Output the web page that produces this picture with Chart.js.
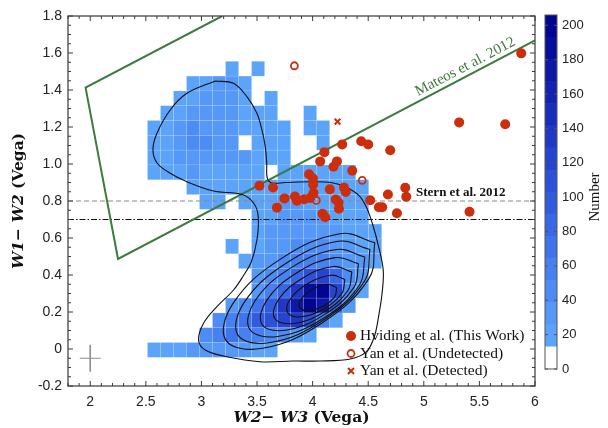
<!DOCTYPE html>
<html>
<head>
<meta charset="utf-8">
<script src="https://cdn.jsdelivr.net/npm/chart.js@4.4.0/dist/chart.umd.min.js"></script>
<style>
  html, body { margin: 0; padding: 0; background: #fff; }
  #wrap { position: relative; width: 608px; height: 428px; }
  canvas { position: absolute; top: 0; }
  #main { left: 0; }
  #cbar { left: 540px; }
</style>
</head>
<body>
<div id="wrap">
  <canvas id="main" width="608" height="428"></canvas>
  <canvas id="cbar" width="68" height="428"></canvas>
</div>
<script>
// tick labels
const xTicks = [2, 2.5, 3, 3.5, 4, 4.5, 5, 5.5, 6];
const yTicks = [-0.2, 0, 0.2, 0.4, 0.6, 0.8, 1, 1.2, 1.4, 1.6, 1.8];
const cbTicks = [0, 20, 40, 60, 80, 100, 120, 140, 160, 180, 200];

// 2D histogram bins (W2-W3 left edges, W1-W2 edges from top to bottom)
const xBinEdges = [2.515, 2.632, 2.749, 2.866, 2.983, 3.100, 3.217, 3.334, 3.451, 3.568,
                   3.685, 3.802, 3.919, 4.036, 4.153, 4.270, 4.387, 4.504, 4.621];
const yBinEdges = [1.555, 1.475, 1.395, 1.315, 1.235, 1.155, 1.075, 0.995, 0.915, 0.835, 0.755,
                   0.675, 0.595, 0.515, 0.435, 0.355, 0.275, 0.195, 0.115, 0.035, -0.045];
// counts per cell, rows top -> bottom
const counts = [
  [0,0,0,0,0,0,18,0,16,0,0,0,0,0,0,0,0,0],
  [0,0,0,20,24,34,26,22,0,0,0,0,0,0,0,0,0,0],
  [0,0,18,24,28,30,26,22,0,18,0,0,0,0,0,0,0,0],
  [0,18,22,30,34,36,28,24,22,20,0,0,16,0,0,0,0,0],
  [18,24,38,42,30,30,34,24,22,20,18,0,17,16,0,0,0,0],
  [20,24,30,40,42,30,26,0,22,20,18,0,0,16,0,0,0,0],
  [18,22,26,30,32,26,30,26,22,18,18,0,0,0,0,0,0,0],
  [16,18,22,26,24,24,22,20,18,0,18,18,20,18,18,16,0,0],
  [0,0,0,16,18,20,18,18,20,22,24,24,22,22,20,18,16,0],
  [0,0,0,0,16,18,0,16,20,22,26,26,24,24,22,20,18,0],
  [0,0,0,0,0,0,0,0,18,22,26,28,28,26,24,20,16,0],
  [0,0,0,0,0,0,0,0,20,26,30,32,34,30,28,24,20,16],
  [0,0,0,0,0,0,18,0,22,28,36,40,42,40,34,28,22,16],
  [0,0,0,0,0,0,0,18,26,34,44,56,64,62,50,36,26,18],
  [0,0,0,0,0,0,0,0,30,42,58,80,110,120,90,50,28,0],
  [0,0,0,0,0,0,0,0,36,56,90,140,190,205,120,50,24,0],
  [0,0,0,0,0,0,30,44,66,100,130,180,200,170,80,30,0,0],
  [0,0,0,0,0,40,60,76,92,110,120,130,110,60,24,0,0,0],
  [0,0,0,0,40,60,66,60,56,50,40,30,20,0,0,0,0,0],
  [18,20,22,28,32,34,30,26,22,18,0,0,0,0,0,0,0,0]
];

// colour bar levels
const cbEdges = [0, 12.875, 25.75, 38.625, 51.5, 64.375, 77.25, 90.125, 103, 115.875,
                 128.75, 141.625, 154.5, 167.375, 180.25, 193.125, 206];

// Hviding et al. (This Work)
const hvX = [5.876, 5.318, 5.732, 4.266, 4.437, 4.500, 4.698, 4.106, 4.068, 4.219, 4.188, 4.356, 3.968, 4.003,
             4.005, 3.522, 3.644, 4.008, 4.155, 4.282, 4.298, 3.841, 3.747, 3.859, 3.924, 3.978, 4.208, 4.233,
             3.679, 4.237, 4.518, 4.677, 4.833, 4.842, 4.596, 4.626, 4.758, 5.411, 4.089, 4.113];
const hvY = [1.598, 1.225, 1.215, 1.106, 1.123, 1.105, 1.074, 1.064, 1.014, 1.014, 0.985, 0.964, 0.945, 0.921,
             0.888, 0.883, 0.873, 0.843, 0.863, 0.873, 0.849, 0.824, 0.814, 0.802, 0.809, 0.816, 0.808, 0.792,
             0.764, 0.758, 0.804, 0.835, 0.872, 0.823, 0.766, 0.766, 0.734, 0.742, 0.731, 0.712];
// Yan et al.
const yanUndX = [3.836, 4.446, 4.034];
const yanUndY = [1.531, 0.912, 0.803];
const yanDetX = [4.224];
const yanDetY = [1.229];

// Mateos et al. 2012 wedge
const wedgeX = [3.187, 1.958, 2.250, 6.0];
const wedgeY = [1.8, 1.413, 0.487, 1.668];
// Stern et al. 2012 cut and the 0.7 line
const sternY = 0.8;
const cutY = 0.7;
const lineSpan = [1.8, 6];

// typical error
const errX = 2.0, errY = -0.05, errDx = 0.094, errDy = 0.072;

// density contours
const contourOuter = [
  [3.124,1.449],[3.289,1.436],[3.409,1.364],[3.499,1.274],[3.544,1.184],[3.574,1.094],[3.587,1.004],
  [3.592,0.924],[3.637,0.897],[3.754,0.900],[3.994,0.904],[4.174,0.899],[4.293,0.877],[4.413,0.832],
  [4.482,0.769],[4.536,0.681],[4.590,0.562],[4.635,0.427],[4.626,0.308],[4.593,0.175],[4.554,0.065],
  [4.482,-0.016],[4.338,-0.054],[4.068,-0.065],[3.826,-0.065],[3.529,-0.069],[3.229,-0.042],[3.034,-0.005],
  [2.974,0.049],[3.019,0.139],[3.139,0.229],[3.289,0.319],[3.376,0.395],[3.448,0.470],[3.499,0.589],
  [3.511,0.714],[3.475,0.784],[3.367,0.835],[3.109,0.854],[2.870,0.904],[2.719,0.950],[2.603,1.004],
  [2.564,1.076],[2.600,1.166],[2.719,1.292],[2.870,1.382],[3.124,1.449]
];
const contourL1 = [[4.217,0.331],[4.138,0.350],[4.008,0.326],[3.903,0.275],[3.884,0.225],[3.962,0.207],[4.093,0.231],[4.198,0.282]];
const contourL2 = [[4.290,0.376],[4.166,0.399],[3.965,0.357],[3.803,0.273],[3.775,0.197],[3.898,0.174],[4.100,0.216],[4.262,0.300]];
const contourL3 = [[4.353,0.417],[4.185,0.446],[3.913,0.384],[3.695,0.269],[3.658,0.166],[3.826,0.138],[4.098,0.199],[4.316,0.315]];
const contourL4 = [[4.413,0.461],[4.201,0.494],[3.859,0.412],[3.587,0.263],[3.544,0.134],[3.755,0.101],[4.098,0.183],[4.370,0.332]];
const contourL5 = [[4.470,0.497],[4.217,0.538],[3.808,0.440],[3.484,0.262],[3.433,0.108],[3.686,0.068],[4.094,0.165],[4.419,0.343]];
const contourL6 = [[4.516,0.538],[4.228,0.582],[3.758,0.462],[3.385,0.252],[3.328,0.075],[3.621,0.035],[4.091,0.154],[4.464,0.364]];
const contourL7 = [[4.560,0.575],[4.246,0.623],[3.711,0.486],[3.286,0.248],[3.219,0.048],[3.550,0.004],[4.084,0.141],[4.505,0.379]];

// 색상
const RED = '#cc2e0c';
const GREEN = '#3d7a3d';
const PALETTE = ['#ffffff',
  'rgb(92,164,250)', 'rgb(85,152,248)', 'rgb(78,140,245)', 'rgb(71,128,241)', 'rgb(64,116,236)',
  'rgb(57,104,230)', 'rgb(50,92,223)', 'rgb(44,80,215)', 'rgb(38,68,206)', 'rgb(32,56,196)',
  'rgb(26,45,186)', 'rgb(20,34,176)', 'rgb(14,24,166)', 'rgb(8,14,156)', 'rgb(2,5,146)'];

Chart.defaults.font.family = '"Liberation Sans", Arial, sans-serif';

function colorFor(v) {
  for (let k = 0; k < cbEdges.length - 1; k++) {
    if (v < cbEdges[k + 1]) return PALETTE[k];
  }
  return PALETTE[PALETTE.length - 1];
}

const zip = (xs, ys) => xs.map((x, i) => ({ x: x, y: ys[i] }));
const pairs = arr => arr.map(p => ({ x: p[0], y: p[1] }));
const closed = arr => pairs(arr.concat([arr[0]]));

function lineSet(data, color, width, extra) {
  return Object.assign({
    data: data,
    showLine: true,
    borderColor: color,
    borderWidth: width,
    pointRadius: 0,
    pointHitRadius: 0,
    fill: false,
    tension: 0
  }, extra || {});
}

// 2D 히스토그램
const heatmapPlugin = {
  id: 'heatmap',
  beforeDatasetsDraw(chart) {
    const { ctx, chartArea: a, scales: { x, y } } = chart;
    ctx.save();
    ctx.beginPath();
    ctx.rect(a.left, a.top, a.width, a.height);
    ctx.clip();
    counts.forEach((row, r) => {
      row.forEach((v, c) => {
        if (!v) return;
        const x0 = x.getPixelForValue(xBinEdges[c]);
        const x1 = x.getPixelForValue(xBinEdges[c + 1]);
        const y0 = y.getPixelForValue(yBinEdges[r]);
        const y1 = y.getPixelForValue(yBinEdges[r + 1]);
        ctx.fillStyle = colorFor(v);
        ctx.fillRect(x0, y0, x1 - x0, y1 - y0);
        ctx.strokeStyle = 'rgba(255,255,255,0.16)';
        ctx.lineWidth = 0.6;
        ctx.strokeRect(x0, y0, x1 - x0, y1 - y0);
      });
    });
    ctx.restore();
  }
};

// 테두리와 안쪽 눈금
const framePlugin = {
  id: 'frame',
  afterDatasetsDraw(chart) {
    const { ctx, chartArea: a, scales: { x, y } } = chart;
    ctx.save();
    ctx.strokeStyle = '#3a3a3a';
    ctx.lineWidth = 1.2;
    ctx.strokeRect(a.left, a.top, a.width, a.height);
    ctx.lineWidth = 1;
    ctx.beginPath();
    for (let i = 0; i <= 42; i++) {
      const v = 1.8 + i * 0.1;
      const major = xTicks.some(t => Math.abs(t - v) < 1e-6);
      const len = major ? 5 : 3;
      const px = x.getPixelForValue(v);
      ctx.moveTo(px, a.bottom); ctx.lineTo(px, a.bottom - len);
      ctx.moveTo(px, a.top); ctx.lineTo(px, a.top + len);
    }
    for (let i = 0; i <= 40; i++) {
      const v = -0.2 + i * 0.05;
      const major = yTicks.some(t => Math.abs(t - v) < 1e-6);
      const len = major ? 5 : 3;
      const py = y.getPixelForValue(v);
      ctx.moveTo(a.left, py); ctx.lineTo(a.left + len, py);
      ctx.moveTo(a.right, py); ctx.lineTo(a.right - len, py);
    }
    ctx.stroke();
    ctx.restore();
  }
};

function drawMixed(ctx, parts, cx, cy) {
  let total = 0;
  parts.forEach(p => { ctx.font = p.font; p.w = ctx.measureText(p.text).width; total += p.w; });
  let px = cx - total / 2;
  parts.forEach(p => { ctx.font = p.font; ctx.fillText(p.text, px, cy); px += p.w; });
}

// 축 제목, 주석, 범례
const textPlugin = {
  id: 'texts',
  afterDraw(chart) {
    const { ctx, chartArea: a, scales: { x, y } } = chart;
    const itf = 'italic bold 15.5px "DejaVu Serif"';
    const bf = 'bold 15.5px "DejaVu Serif"';
    ctx.save();
    ctx.fillStyle = '#111';
    ctx.textAlign = 'left';
    ctx.textBaseline = 'middle';
    drawMixed(ctx, [{ text: 'W2\u2212 W3', font: itf }, { text: ' (Vega)', font: bf }], (a.left + a.right) / 2, 418);
    ctx.save();
    ctx.translate(19, (a.top + a.bottom) / 2);
    ctx.rotate(-Math.PI / 2);
    drawMixed(ctx, [{ text: 'W1\u2212 W2', font: itf }, { text: ' (Vega)', font: bf }], 0, 0);
    ctx.restore();

    // Stern et al. 2012
    ctx.font = 'bold 13px "Liberation Serif"';
    ctx.fillStyle = '#111';
    ctx.fillText('Stern et al. 2012', x.getPixelForValue(4.93), y.getPixelForValue(0.845));

    // Mateos et al. 2012, along the lower wedge edge
    const x1 = x.getPixelForValue(wedgeX[2]), y1 = y.getPixelForValue(wedgeY[2]);
    const x2 = x.getPixelForValue(wedgeX[3]), y2 = y.getPixelForValue(wedgeY[3]);
    const ang = Math.atan2(y2 - y1, x2 - x1);
    const t = (5.41 - wedgeX[2]) / (wedgeX[3] - wedgeX[2]);
    ctx.save();
    ctx.translate(x1 + t * (x2 - x1), y1 + t * (y2 - y1));
    ctx.rotate(ang);
    ctx.font = '15px "Liberation Serif"';
    ctx.fillStyle = GREEN;
    ctx.textAlign = 'center';
    ctx.fillText('Mateos et al. 2012', 0, -9);
    ctx.restore();

    // legend
    const mx = a.right - 184;
    const tx = a.right - 175;
    const rows = [a.bottom - 50, a.bottom - 32.5, a.bottom - 15];
    ctx.font = '15.5px "Liberation Serif"';
    ctx.fillStyle = '#111';
    ctx.fillText('Hviding et al. (This Work)', tx, rows[0]);
    ctx.fillText('Yan et al. (Undetected)', tx, rows[1]);
    ctx.fillText('Yan et al. (Detected)', tx, rows[2]);
    ctx.fillStyle = RED;
    ctx.beginPath(); ctx.arc(mx, rows[0], 5, 0, Math.PI * 2); ctx.fill();
    ctx.strokeStyle = RED;
    ctx.lineWidth = 1.8;
    ctx.beginPath(); ctx.arc(mx, rows[1], 3.5, 0, Math.PI * 2); ctx.stroke();
    ctx.lineWidth = 2;
    ctx.beginPath();
    ctx.moveTo(mx - 3, rows[2] - 3); ctx.lineTo(mx + 3, rows[2] + 3);
    ctx.moveTo(mx + 3, rows[2] - 3); ctx.lineTo(mx - 3, rows[2] + 3);
    ctx.stroke();
    ctx.restore();
  }
};

new Chart(document.getElementById('main'), {
  type: 'scatter',
  data: {
    datasets: [
      { label: 'Hviding et al. (This Work)', data: zip(hvX, hvY), pointRadius: 5, backgroundColor: RED, borderColor: RED, borderWidth: 0 },
      { label: 'Yan et al. (Undetected)', data: zip(yanUndX, yanUndY), pointRadius: 3.5, backgroundColor: 'rgba(0,0,0,0)', borderColor: RED, borderWidth: 1.8 },
      { label: 'Yan et al. (Detected)', data: zip(yanDetX, yanDetY), pointStyle: 'crossRot', pointRadius: 4, borderColor: RED, borderWidth: 2 },
      lineSet(pairs(contourOuter), '#111', 1.1, { tension: 0.35 }),
      lineSet(closed(contourL1), '#111', 1.1, { tension: 0.4 }),
      lineSet(closed(contourL2), '#111', 1.1, { tension: 0.4 }),
      lineSet(closed(contourL3), '#111', 1.1, { tension: 0.4 }),
      lineSet(closed(contourL4), '#111', 1.1, { tension: 0.4 }),
      lineSet(closed(contourL5), '#111', 1.1, { tension: 0.4 }),
      lineSet(closed(contourL6), '#111', 1.1, { tension: 0.4 }),
      lineSet(closed(contourL7), '#111', 1.1, { tension: 0.4 }),
      lineSet(zip(wedgeX, wedgeY), GREEN, 2),
      lineSet(zip(lineSpan, [sternY, sternY]), '#8a8a8a', 1, { borderDash: [5, 3] }),
      lineSet(zip(lineSpan, [cutY, cutY]), '#111', 1.2, { borderDash: [6, 2, 1.5, 2] }),
      lineSet(zip([errX - errDx, errX + errDx], [errY, errY]), '#8c8c8c', 1),
      lineSet(zip([errX, errX], [errY + errDy, errY - errDy]), '#8c8c8c', 1)
    ]
  },
  options: {
    responsive: false,
    animation: false,
    layout: { padding: { left: 0, top: 16, right: 73, bottom: 0 } },
    plugins: { legend: { display: false }, tooltip: { enabled: false } },
    scales: {
      x: {
        type: 'linear', min: 1.8, max: 6,
        grid: { display: false, drawTicks: false },
        border: { display: false },
        afterBuildTicks: s => { s.ticks = xTicks.map(v => ({ value: v })); },
        afterFit: s => { s.height = 42; },
        ticks: { font: { size: 14 }, color: '#222', padding: 8, maxRotation: 0, autoSkip: false, callback: v => String(v) }
      },
      y: {
        type: 'linear', min: -0.2, max: 1.8,
        grid: { display: false, drawTicks: false },
        border: { display: false },
        afterBuildTicks: s => { s.ticks = yTicks.map(v => ({ value: v })); },
        afterFit: s => { s.width = 68; },
        ticks: { font: { size: 14 }, color: '#222', padding: 6, autoSkip: false, callback: v => (v === 0 ? '0' : v.toFixed(1)) }
      }
    }
  },
  plugins: [heatmapPlugin, framePlugin, textPlugin]
});

// 컬러바
const cbFramePlugin = {
  id: 'cbFrame',
  afterDraw(chart) {
    const { ctx, chartArea: a, scales: { y } } = chart;
    ctx.save();
    ctx.strokeStyle = '#555';
    ctx.lineWidth = 1;
    ctx.strokeRect(a.left, a.top, a.width, a.height);
    ctx.beginPath();
    cbTicks.forEach(v => {
      const py = y.getPixelForValue(v);
      ctx.moveTo(a.right, py); ctx.lineTo(a.right - 3, py);
      ctx.moveTo(a.left, py); ctx.lineTo(a.left + 3, py);
    });
    ctx.stroke();
    ctx.translate(55, 197);
    ctx.rotate(-Math.PI / 2);
    ctx.font = '15px "Liberation Serif"';
    ctx.fillStyle = '#111';
    ctx.textAlign = 'center';
    ctx.textBaseline = 'middle';
    ctx.fillText('Number', 0, 0);
    ctx.restore();
  }
};

new Chart(document.getElementById('cbar'), {
  type: 'bar',
  data: {
    labels: [''],
    datasets: cbEdges.slice(0, -1).map((lo, k) => ({
      data: [cbEdges[k + 1] - lo],
      backgroundColor: PALETTE[k],
      borderWidth: 0,
      barPercentage: 1,
      categoryPercentage: 1,
      stack: 'cb'
    }))
  },
  options: {
    responsive: false,
    animation: false,
    layout: { padding: { left: 5, top: 15, right: 0, bottom: 59 } },
    plugins: { legend: { display: false }, tooltip: { enabled: false } },
    scales: {
      x: { display: false, stacked: true },
      y: {
        position: 'right', stacked: true, min: 0, max: 206,
        grid: { display: false, drawTicks: false },
        border: { display: false },
        afterBuildTicks: s => { s.ticks = cbTicks.map(v => ({ value: v })); },
        afterFit: s => { s.width = 51; },
        ticks: { font: { size: 13 }, color: '#222', padding: 5, autoSkip: false }
      }
    }
  },
  plugins: [cbFramePlugin]
});
</script>
</body>
</html>
